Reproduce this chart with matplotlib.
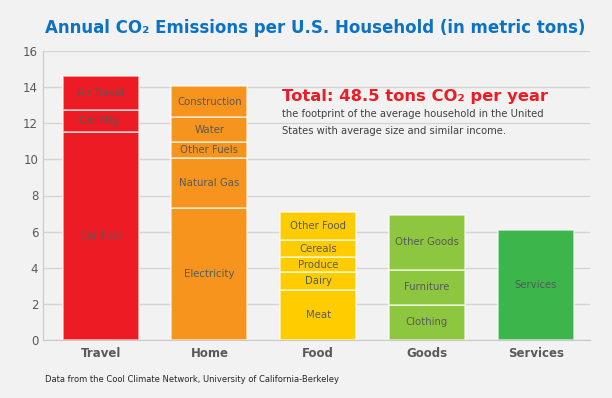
import matplotlib
matplotlib.use('Agg')
import matplotlib.pyplot as plt

categories = ['Travel', 'Home', 'Food', 'Goods', 'Services']
colors = ['#ed1c24', '#f7941d', '#ffcc00', '#8dc63f', '#3cb54a']

travel_parts = ['Car Fuel', 'Car Mfg.', 'Air Travel']
travel_vals = [11.5, 1.25, 1.85]
home_parts = ['Electricity', 'Natural Gas', 'Other Fuels', 'Water', 'Construction']
home_vals = [7.3, 2.75, 0.9, 1.4, 1.7]
food_parts = ['Meat', 'Dairy', 'Produce', 'Cereals', 'Other Food']
food_vals = [2.75, 1.0, 0.83, 0.94, 1.57]
goods_parts = ['Clothing', 'Furniture', 'Other Goods']
goods_vals = [1.95, 1.95, 3.0]
services_parts = ['Services']
services_vals = [6.1]

all_parts = [travel_parts, home_parts, food_parts, goods_parts, services_parts]
all_vals = [travel_vals, home_vals, food_vals, goods_vals, services_vals]

bg = '#f2f2f2'
fig = plt.figure(figsize=(6.12, 3.98), dpi=100, facecolor=bg)
ax = fig.add_axes([43 / 612, 1 - 340 / 398, (590 - 43) / 612, (340 - 51) / 398])
ax.set_facecolor(bg)

for i, (parts, vals) in enumerate(zip(all_parts, all_vals)):
    bottom = 0
    for name, v in zip(parts, vals):
        ax.bar(i, v, bottom=bottom, width=0.70, color=colors[i],
               edgecolor=(1, 1, 1, 0.65), linewidth=1.2, zorder=3)
        ax.text(i, bottom + v / 2, name, ha='center', va='center',
                fontsize=7.3, color='#595959', zorder=4)
        bottom += v

ax.set_ylim(0, 16)
ax.set_xlim(-0.53, 4.5)
ax.set_yticks(range(0, 17, 2))
ax.set_xticks(range(len(categories)))
ax.set_xticklabels(categories, fontweight='bold')
ax.tick_params(axis='both', length=0, colors='#595959', labelsize=8.5)
ax.tick_params(axis='x', pad=5)
ax.grid(axis='y', color='#d4d4d4', linewidth=1, zorder=0)
for s in ['top', 'right']:
    ax.spines[s].set_visible(False)
for s in ['left', 'bottom']:
    ax.spines[s].set_color('#c8c8c8')

fig.text(0.515, 1 - 28 / 398, 'Annual CO\u2082 Emissions per U.S. Household (in metric tons)',
         ha='center', va='center', fontsize=12, fontweight='bold', color='#0b72c4')
fig.text(282 / 612, 1 - 97 / 398, 'Total: 48.5 tons CO\u2082 per year',
         ha='left', va='center', fontsize=11.8, fontweight='bold', color='#ed1c24')
fig.text(282 / 612, 1 - 114 / 398, 'the footprint of the average household in the United',
         ha='left', va='center', fontsize=7.2, color='#404040')
fig.text(282 / 612, 1 - 131 / 398, 'States with average size and similar income.',
         ha='left', va='center', fontsize=7.2, color='#404040')
fig.text(45 / 612, 1 - 379 / 398, 'Data from the Cool Climate Network, University of California-Berkeley',
         ha='left', va='center', fontsize=6, color='#262626')

fig.savefig('out.png', dpi=100, facecolor=bg)
